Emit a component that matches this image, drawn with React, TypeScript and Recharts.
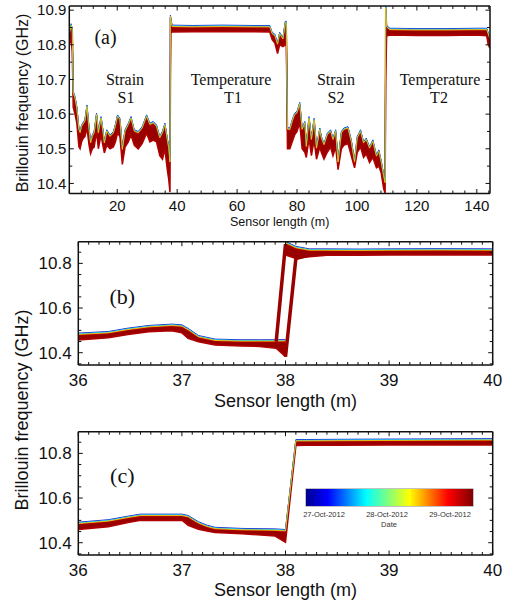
import { ComposedChart, Area, Line, XAxis, YAxis } from "recharts";

// ---------- panel (a): whole sensor, every date ----------
const aLength = [
  4.0, 4.6, 5.0, 5.3, 5.9, 6.5, 7.2, 7.6, 8.1, 8.6, 9.2, 9.9, 10.6, 11.1, 11.7, 12.3, 13.1, 13.7,
  14.6, 15.2, 15.7, 16.5, 17.6, 18.7, 19.4, 20.1, 20.9, 21.7, 22.6, 23.7, 24.6, 25.7, 27.0, 28.3,
  29.8, 30.9, 32.0, 33.1, 34.2, 35.1, 35.9, 36.7, 37.2, 37.6, 37.75, 37.9, 38.3, 45, 55, 65, 70.9,
  71.7, 72.6, 73.5, 74.2, 75.3, 76.1, 76.4, 76.8, 77.6, 78.4, 79.2, 80.0, 80.9, 81.7, 82.6, 83.1,
  84.0, 84.8, 85.7, 86.5, 87.6, 88.1, 89.0, 90.1, 91.2, 92.0, 92.9, 93.7, 94.8, 95.6, 97.0, 98.1,
  99.2, 100.1, 101.2, 102.2, 103.1, 104.2, 105.3, 106.5, 107.3, 108.1, 108.9, 109.4, 109.6, 109.9,
  111, 120, 130, 140, 143.3, 143.8, 144.4,
];
const aUpper = [
  10.83, 10.855, 10.84, 10.66, 10.645, 10.616, 10.554, 10.545, 10.563, 10.57, 10.578, 10.62, 10.554,
  10.515, 10.535, 10.544, 10.597, 10.544, 10.587, 10.55, 10.515, 10.549, 10.534, 10.544, 10.565,
  10.592, 10.582, 10.496, 10.549, 10.568, 10.587, 10.549, 10.544, 10.558, 10.592, 10.568, 10.573,
  10.563, 10.53, 10.545, 10.568, 10.525, 10.5, 10.46, 10.88, 10.87, 10.851, 10.85, 10.851, 10.85,
  10.85, 10.83, 10.825, 10.8, 10.83, 10.815, 10.862, 10.862, 10.555, 10.554, 10.578, 10.597, 10.602,
  10.628, 10.554, 10.573, 10.505, 10.587, 10.525, 10.582, 10.5, 10.554, 10.53, 10.51, 10.539, 10.549,
  10.525, 10.549, 10.46, 10.544, 10.554, 10.558, 10.52, 10.46, 10.53, 10.549, 10.515, 10.525, 10.5,
  10.52, 10.477, 10.491, 10.46, 10.42, 10.4, 10.905, 10.85, 10.842, 10.841, 10.841, 10.842, 10.842,
  10.83, 10.815,
];
const aLower = [
  10.8, 10.82, 10.78, 10.62, 10.6, 10.575, 10.506, 10.5, 10.52, 10.53, 10.535, 10.56, 10.51, 10.486,
  10.5, 10.505, 10.55, 10.5, 10.54, 10.51, 10.488, 10.51, 10.5, 10.505, 10.52, 10.545, 10.535,
  10.455, 10.505, 10.52, 10.54, 10.51, 10.5, 10.515, 10.545, 10.52, 10.525, 10.52, 10.48, 10.47,
  10.5, 10.44, 10.41, 10.375, 10.7, 10.835, 10.837, 10.838, 10.838, 10.838, 10.837, 10.815, 10.805,
  10.775, 10.8, 10.795, 10.8, 10.84, 10.5, 10.5, 10.52, 10.54, 10.55, 10.575, 10.5, 10.49, 10.475,
  10.53, 10.48, 10.525, 10.47, 10.505, 10.49, 10.47, 10.49, 10.505, 10.48, 10.505, 10.44, 10.5,
  10.51, 10.515, 10.48, 10.445, 10.49, 10.505, 10.475, 10.485, 10.46, 10.475, 10.445, 10.45, 10.43,
  10.385, 10.372, 10.7, 10.825, 10.828, 10.827, 10.827, 10.828, 10.826, 10.8, 10.79,
];
const aXMajor = [20, 40, 60, 80, 100, 120, 140];
const aYMajor = [10.4, 10.5, 10.6, 10.7, 10.8, 10.9];

// ---------- panel (b): zoom on the strain / temperature joint ----------
const bLength = [
  36.0, 36.29, 36.48, 36.68, 36.9, 37.0, 37.06, 37.16, 37.32, 37.58, 37.75, 37.91, 38.0, 38.1,
  38.23, 38.4, 38.7, 39.0, 39.5, 40.0,
];
const bUpper = [
  10.479, 10.486, 10.501, 10.513, 10.519, 10.516, 10.5, 10.468, 10.452, 10.449, 10.449, 10.449,
  10.45, null, null, null, null, null, null, null,
];
const bLower = [
  10.457, 10.467, 10.482, 10.494, 10.498, 10.489, 10.464, 10.449, 10.434, 10.43, 10.428, 10.42,
  10.382, null, null, null, null, null, null, null,
];
const bTopUpper = [
  null, null, null, null, null, null, null, null, null, null, null, null,
  10.889, 10.867, 10.856, 10.856, 10.855, 10.856, 10.857, 10.856,
];
const bTopLower = [
  null, null, null, null, null, null, null, null, null, null, null, null,
  10.837, 10.822, 10.83, 10.836, 10.836, 10.837, 10.838, 10.837,
];
const bJumpLeft = [
  null, null, null, null, null, null, null, null, null, null, null, 10.449, 10.886,
  null, null, null, null, null, null, null,
];
const bJumpRight = [
  null, null, null, null, null, null, null, null, null, null, null, null, 10.382, 10.822, 10.838,
  null, null, null, null, null,
];

// ---------- panel (c) ----------
const cLength = [
  36.0, 36.29, 36.48, 36.6, 37.0, 37.06, 37.16, 37.24, 37.32, 37.58, 37.9, 38.0, 38.1, 38.2, 38.5,
  39.0, 39.5, 40.0,
];
const cUpper = [
  10.483, 10.494, 10.51, 10.519, 10.519, 10.513, 10.485, 10.47, 10.46, 10.455, 10.453, 10.45,
  10.853, 10.853, 10.854, 10.855, 10.856, 10.857,
];
const cLower = [
  10.459, 10.471, 10.49, 10.5, 10.501, 10.478, 10.46, 10.452, 10.446, 10.44, 10.43, 10.402, 10.835,
  10.836, 10.836, 10.837, 10.838, 10.838,
];

const zoomXMajor = [36, 37, 38, 39, 40];
const zoomYMajor = [10.4, 10.6, 10.8];
const dateLabels = ["27-Oct-2012", "28-Oct-2012", "29-Oct-2012"];

// ---------- styling ----------
const SANS = '"Liberation Sans", Arial, sans-serif';
const SERIF = '"Liberation Serif", "Times New Roman", serif';
const INK = "#111";
const BAND = "#990000";
const EDGE = "#b00000";
// earlier dates peek out just above the latest (dark red) curves
const FRINGE = [
  { color: "#0010c8", cls: "lift3" },
  { color: "#00c8f0", cls: "lift2" },
  { color: "#f0c000", cls: "lift1" },
];
const css = `
.lift3 path { transform: translateY(-2px); }
.lift2 path { transform: translateY(-1.3px); }
.lift1 path { transform: translateY(-0.6px); }
`;

const steps = (from: number, to: number, step: number) =>
  Array.from({ length: Math.round((to - from) / step) + 1 }, (_, i) => +(from + i * step).toFixed(3));

const aData = aLength.map((x, i) => ({ x, band: [aLower[i], aUpper[i]], hi: aUpper[i] }));
const bData = bLength.map((x, i) => ({
  x,
  band: bUpper[i] == null ? null : [bLower[i], bUpper[i]],
  top: bTopUpper[i] == null ? null : [bTopLower[i], bTopUpper[i]],
  hi: bUpper[i],
  hiTop: bTopUpper[i],
  jl: bJumpLeft[i],
  jr: bJumpRight[i],
}));
const cData = cLength.map((x, i) => ({ x, band: [cLower[i], cUpper[i]], hi: cUpper[i] }));

type Side = "bottom" | "top" | "left" | "right";
const makeTick =
  (side: Side, majors: number[], size: number, gap: number, digits: number) => (p: any) => {
    const v: number = p.payload.value;
    const major = majors.some((m) => Math.abs(m - v) < 1e-6);
    const len = major ? 4.5 : 3;
    const { x, y } = p;
    let mark = null;
    let text = null;
    if (side === "bottom") {
      mark = <line x1={x} y1={y} x2={x} y2={y - len} />;
      if (major)
        text = (
          <text x={x} y={y + gap} dy="0.35em" textAnchor="middle">
            {v.toFixed(digits)}
          </text>
        );
    } else if (side === "top") {
      mark = <line x1={x} y1={y} x2={x} y2={y + len} />;
    } else if (side === "left") {
      mark = <line x1={x} y1={y} x2={x + len} y2={y} />;
      if (major)
        text = (
          <text x={x - gap} y={y} dy="0.35em" textAnchor="end">
            {v.toFixed(digits)}
          </text>
        );
    } else {
      mark = <line x1={x} y1={y} x2={x - len} y2={y} />;
    }
    return (
      <g>
        <g stroke={INK} strokeWidth={1}>{mark}</g>
        <g fill={INK} fontSize={size} fontFamily={SANS}>{text}</g>
      </g>
    );
  };

type Frame = {
  xDomain: [number, number];
  yDomain: [number, number];
  xTicks: number[];
  xMajor: number[];
  yTicks: number[];
  yMajor: number[];
  size: number;
  xGap: number;
  yGap: number;
  xHeight: number;
  yWidth: number;
  titleSize: number;
  titleOffset: number;
};

const frameAxes = (f: Frame) => {
  const line = { stroke: INK, strokeWidth: 1.5 };
  const common = { tickSize: 0, tickMargin: 0, tickLine: false, axisLine: line, interval: 0 as const, allowDataOverflow: true };
  return [
    <XAxis
      key="xb"
      dataKey="x"
      type="number"
      domain={f.xDomain}
      ticks={f.xTicks}
      height={f.xHeight}
      {...common}
      tick={makeTick("bottom", f.xMajor, f.size, f.xGap, 0)}
      label={{
        value: "Sensor length (m)",
        position: "insideBottom",
        offset: f.titleOffset,
        fontSize: f.titleSize,
        fontFamily: SANS,
        fill: INK,
      }}
    />,
    <XAxis
      key="xt"
      xAxisId="top"
      orientation="top"
      dataKey="x"
      type="number"
      domain={f.xDomain}
      ticks={f.xTicks}
      height={1}
      {...common}
      tick={makeTick("top", f.xMajor, f.size, 0, 0)}
    />,
    <YAxis
      key="yl"
      type="number"
      domain={f.yDomain}
      ticks={f.yTicks}
      width={f.yWidth}
      {...common}
      tick={makeTick("left", f.yMajor, f.size, f.yGap, 1)}
    />,
    <YAxis
      key="yr"
      yAxisId="right"
      orientation="right"
      type="number"
      domain={f.yDomain}
      ticks={f.yTicks}
      width={1}
      {...common}
      tick={makeTick("right", f.yMajor, f.size, 0, 1)}
    />,
  ];
};

const fringe = (key: string) =>
  FRINGE.map((f) => (
    <Line
      key={key + f.cls}
      className={f.cls}
      type="linear"
      dataKey={key}
      stroke={f.color}
      strokeWidth={0.9}
      dot={false}
      activeDot={false}
      isAnimationActive={false}
    />
  ));

const band = (key: string) => (
  <Area
    key={key}
    type="linear"
    dataKey={(d: any) => d[key]}
    stroke={EDGE}
    strokeWidth={1.5}
    fill={BAND}
    fillOpacity={1}
    dot={false}
    activeDot={false}
    isAnimationActive={false}
  />
);

const zoomFrame = (xHeight: number, titleOffset: number): Frame => ({
  xDomain: [36, 40],
  yDomain: [10.345, 10.897],
  xTicks: steps(36, 40, 0.1),
  xMajor: zoomXMajor,
  yTicks: steps(10.35, 10.85, 0.05),
  yMajor: zoomYMajor,
  size: 17,
  xGap: 15,
  yGap: 6.6,
  xHeight,
  yWidth: 78.3,
  titleSize: 18,
  titleOffset,
});

const jet =
  "linear-gradient(to right, #000090 0%, #0000ff 13%, #00ffff 36%, #ffff00 62%, #ff0000 85%, #800000 100%)";

export default function App() {
  return (
    <div style={{ position: "absolute", left: 0, top: 0, width: 506, height: 602, background: "#fff", overflow: "hidden" }}>
      <style>{css}</style>

      <div style={{ position: "absolute", left: 0, top: 0, width: 506, height: 229 }}>
        <ComposedChart width={506} height={229} data={aData} margin={{ top: 5, right: 15, bottom: 0, left: 0 }}>
          {frameAxes({
            xDomain: [4, 144.4],
            yDomain: [10.371, 10.912],
            xTicks: steps(4, 144, 4),
            xMajor: aXMajor,
            yTicks: steps(10.4, 10.9, 0.05),
            yMajor: aYMajor,
            size: 15,
            xGap: 12,
            yGap: 3,
            xHeight: 35.5,
            yWidth: 69.3,
            titleSize: 12.5,
            titleOffset: 3,
          })}
          {band("band")}
          {fringe("hi")}
        </ComposedChart>
      </div>

      <div style={{ position: "absolute", left: 0, top: 230 }}>
        <ComposedChart width={506} height={190} data={bData} margin={{ top: 10.7, right: 12.3, bottom: 0, left: 0 }}>
          {frameAxes(zoomFrame(55, 13.3))}
          {band("band")}
          {band("top")}
          {fringe("hi")}
          {fringe("hiTop")}
          <Line type="linear" dataKey="jl" stroke={BAND} strokeWidth={3.5} dot={false} activeDot={false} isAnimationActive={false} />
          <Line type="linear" dataKey="jr" stroke={BAND} strokeWidth={3.5} dot={false} activeDot={false} isAnimationActive={false} />
        </ComposedChart>
      </div>

      <div style={{ position: "absolute", left: 0, top: 420 }}>
        <ComposedChart width={506} height={182} data={cData} margin={{ top: 10.7, right: 12.3, bottom: 0, left: 0 }}>
          {frameAxes(zoomFrame(47, 6))}
          {band("band")}
          {fringe("hi")}
        </ComposedChart>
      </div>

      <svg width={506} height={602} style={{ position: "absolute", left: 0, top: 0, pointerEvents: "none" }}>
        <g fill={INK} fontFamily={SERIF} textAnchor="middle" dominantBaseline="central">
          <text x={105.5} y={36.7} fontSize={20}>(a)</text>
          <g fontSize={16}>
            <text x={125} y={79}>Strain</text>
            <text x={126} y={97}>S1</text>
            <text x={231} y={79}>Temperature</text>
            <text x={233} y={97}>T1</text>
            <text x={336} y={79}>Strain</text>
            <text x={336} y={97}>S2</text>
            <text x={440} y={79}>Temperature</text>
            <text x={439} y={97}>T2</text>
          </g>
          <text x={122.3} y={296} fontSize={22}>(b)</text>
          <text x={122.3} y={475} fontSize={22}>(c)</text>
        </g>
        <g fill={INK} fontFamily={SANS} textAnchor="middle" dominantBaseline="central">
          <text transform="translate(22 103) rotate(-90)" fontSize={16}>Brillouin frequency (GHz)</text>
          <text transform="translate(22 410) rotate(-90)" fontSize={18}>Brillouin frequency (GHz)</text>
        </g>
        <g fill="#333" fontFamily={SANS} fontSize={7.5} textAnchor="middle" dominantBaseline="central">
          <text x={324} y={514}>{dateLabels[0]}</text>
          <text x={387} y={514}>{dateLabels[1]}</text>
          <text x={450} y={514}>{dateLabels[2]}</text>
          <text x={389} y={524}>Date</text>
        </g>
      </svg>

      <div
        style={{
          position: "absolute",
          left: 306,
          top: 489,
          width: 167,
          height: 17,
          background: jet,
          boxShadow: "0 0 0 0.6px #999",
        }}
      />
    </div>
  );
}
